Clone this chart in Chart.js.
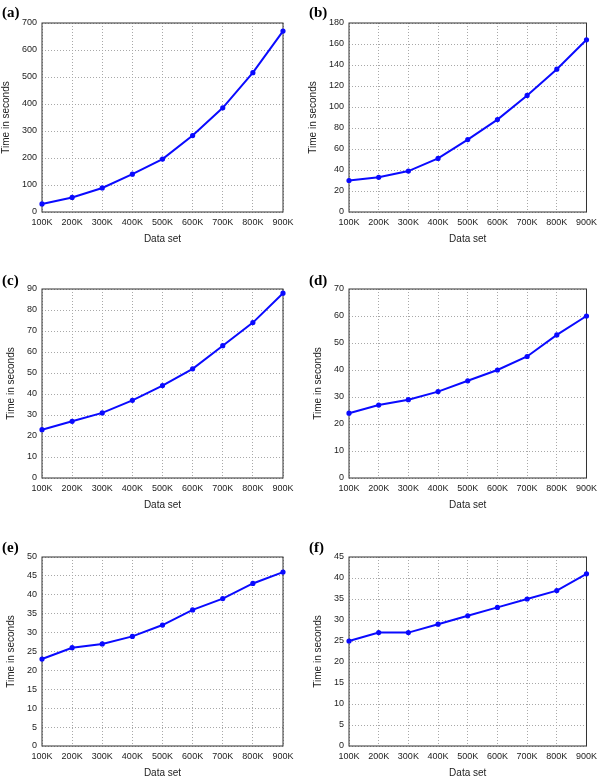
<!DOCTYPE html>
<html>
<head>
<meta charset="utf-8">
<script src="https://cdn.jsdelivr.net/npm/chart.js@4.4.0/dist/chart.umd.min.js"></script>
<style>
  html, body { margin: 0; padding: 0; background: #fff; overflow: hidden; width: 602px; height: 780px; }
  canvas { position: absolute; }
  .tag { position: absolute; font: bold 15px "Liberation Serif", "Times New Roman", serif; line-height: 15px; color: #000; }
</style>
</head>
<body>
<script>
// x categories shared by every panel
const dataSets = ['100K', '200K', '300K', '400K', '500K', '600K', '700K', '800K', '900K'];

// time in seconds, one series per panel
const timesA = [30, 54, 89, 140, 196, 283, 386, 516, 670];
const timesB = [30, 33, 39, 51, 69, 88, 111, 136, 164];
const timesC = [23, 27, 31, 37, 44, 52, 63, 74, 88];
const timesD = [24, 27, 29, 32, 36, 40, 45, 53, 60];
const timesE = [23, 26, 27, 29, 32, 36, 39, 43, 46];
const timesF = [25, 27, 27, 29, 31, 33, 35, 37, 41];

const panelTags = ['(a)', '(b)', '(c)', '(d)', '(e)', '(f)'];
const panelSeries = [timesA, timesB, timesC, timesD, timesE, timesF];
const yMax = [700, 180, 90, 70, 50, 45];
const yStep = [100, 20, 10, 10, 5, 5];

// where each panel sits on the page (pixels)
const CW = 301, CH = 248, PAD_TOP = 23, X_AXIS_H = 36;
const panelPos = [
    { x: 0,   y: 0,   plotLeft: 42, plotRight: 283, titleOff: 0,  tagX: 2,   tagY: 5 },
    { x: 301, y: 0,   plotLeft: 48, plotRight: 289, titleOff: 6,  tagX: 309, tagY: 5 },
    { x: 0,   y: 266, plotLeft: 42, plotRight: 283, titleOff: 5,  tagX: 2,   tagY: 273 },
    { x: 301, y: 266, plotLeft: 48, plotRight: 289, titleOff: 11, tagX: 309, tagY: 273 },
    { x: 0,   y: 534, plotLeft: 42, plotRight: 283, titleOff: 5,  tagX: 2,   tagY: 540 },
    { x: 301, y: 534, plotLeft: 48, plotRight: 289, titleOff: 11, tagX: 309, tagY: 540 },
];

const FONT = 'Liberation Sans, Arial, Helvetica, sans-serif';

/** box around the plot area, like gnuplot draws it */
const framePlugin = {
    id: 'frame',
    beforeDatasetsDraw(chart) {
        const { ctx, chartArea: a } = chart;
        ctx.save();
        ctx.strokeStyle = '#333';
        ctx.lineWidth = 1;
        ctx.strokeRect(a.left, a.top, a.right - a.left, a.bottom - a.top);
        ctx.restore();
    },
};

// dotted grid; in v4 the dash pattern lives under `border`
const gridStyle = { color: '#a8a8a8', lineWidth: 1, drawTicks: false };
const borderStyle = { display: false, dash: [1, 2] };

panelSeries.forEach((series, i) => {
    const pos = panelPos[i];

    const canvas = document.createElement('canvas');
    canvas.width = CW;
    canvas.height = CH;
    canvas.style.left = pos.x + 'px';
    canvas.style.top = pos.y + 'px';
    document.body.appendChild(canvas);

    const tag = document.createElement('div');
    tag.className = 'tag';
    tag.textContent = panelTags[i];
    tag.style.left = pos.tagX + 'px';
    tag.style.top = pos.tagY + 'px';
    document.body.appendChild(tag);

    new Chart(canvas, {
        type: 'line',
        data: {
            labels: dataSets,
            datasets: [
                {
                    data: series,
                    borderColor: '#0a0aff',
                    backgroundColor: '#0a0aff',
                    borderWidth: 2,
                    pointRadius: 1.6,
                    pointHoverRadius: 1.6,
                    tension: 0,
                    clip: false,
                },
            ],
        },
        options: {
            responsive: false,
            animation: false,
            devicePixelRatio: 1,
            layout: {
                padding: { top: PAD_TOP, right: CW - pos.plotRight, bottom: 0, left: 0 },
            },
            plugins: {
                legend: { display: false },
                tooltip: { enabled: false },
            },
            scales: {
                x: {
                    offset: false,
                    border: borderStyle,
                    grid: gridStyle,
                    ticks: { color: '#222', font: { family: FONT, size: 9 }, padding: 5, maxRotation: 0, autoSkip: false },
                    title: {
                        display: true,
                        text: 'Data set',
                        color: '#222',
                        font: { family: FONT, size: 10 },
                        padding: { top: 5, bottom: 3 },
                    },
                    afterFit: (scale) => { scale.height = X_AXIS_H; },
                },
                y: {
                    min: 0,
                    max: yMax[i],
                    border: borderStyle,
                    grid: gridStyle,
                    ticks: { stepSize: yStep[i], color: '#222', font: { family: FONT, size: 9 }, padding: 5 },
                    title: {
                        display: true,
                        text: 'Time in seconds',
                        color: '#222',
                        font: { family: FONT, size: 10 },
                        padding: { top: pos.titleOff, bottom: 0 },
                    },
                    afterFit: (scale) => { scale.width = pos.plotLeft; },
                },
            },
        },
        plugins: [framePlugin],
    });
});
</script>
</body>
</html>
